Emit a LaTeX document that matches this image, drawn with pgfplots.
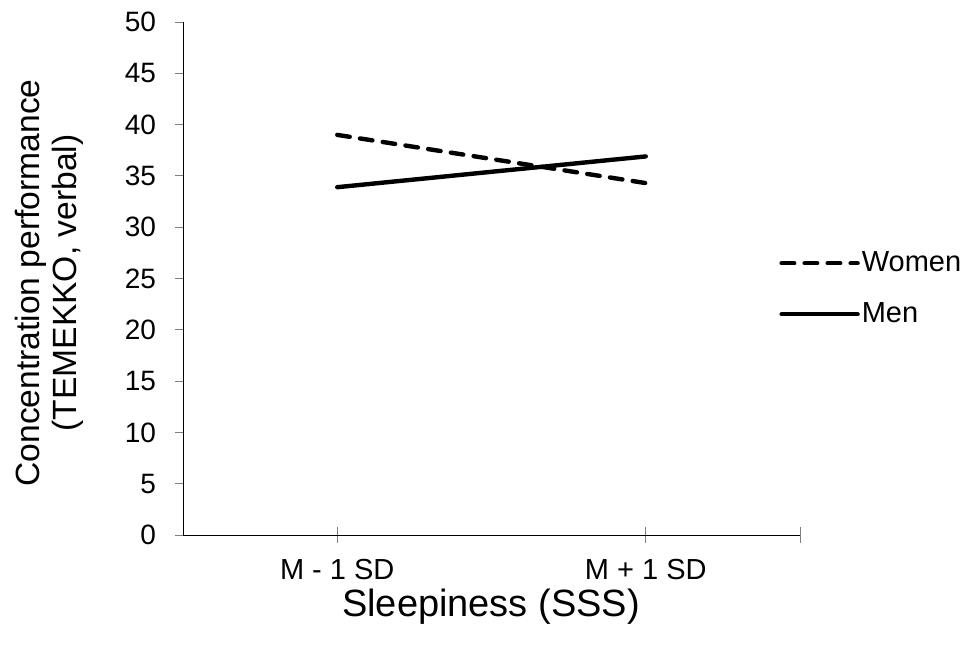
\documentclass[border=0pt]{standalone}
\usepackage{fontspec}
\setmainfont{Liberation Sans}
\usepackage{pgfplots}
\pgfplotsset{compat=1.18}

\begin{document}
\begin{tikzpicture}
% keep the page the size of the reference (1px = 0.5pt)
\useasboundingbox (0,0) rectangle (482.5pt,327.5pt);
\begin{axis}[
    at={(91.5pt,60pt)}, anchor=south west,
    scale only axis,
    width=308.5pt, height=256.5pt,
    xmin=-0.5, xmax=1.5,
    ymin=0, ymax=50,
    axis x line*=bottom,
    axis y line*=left,
    axis line style={line width=0.5pt},
    xtick={0,1},
    xticklabels={M - 1 SD, M + 1 SD},
    extra x ticks={1.5},
    extra x tick labels={},
    ytick={0,5,...,50},
    xtick align=center,
    ytick align=outside,
    xtick style={line width=0.5pt, /pgfplots/major tick length=8pt},
    ytick style={line width=0.5pt, /pgfplots/major tick length=4pt},
    /pgf/number format/assume math mode=true,
    xticklabel style={font=\fontsize{14.5}{16}\selectfont,
        anchor=north, inner sep=0pt, yshift=-10pt},
    yticklabel style={font=\fontsize{14}{16}\selectfont,
        anchor=east, inner sep=0pt},
    yticklabel shift=9pt,
    legend style={draw=none, fill=none, at={(rel axis cs:0.966,0.48)},
        anchor=west, inner sep=0pt, row sep=12pt,
        font=\fontsize{14.5}{16}\selectfont,
        nodes={inner sep=1pt}},
    legend cell align=left,
    legend image code/.code={\draw[#1] (0pt,0pt) -- (38pt,0pt);},
]
\addplot[black, line width=2.2pt, line cap=round, dash pattern=on 6.3pt off 5.2pt]
    coordinates {(0,39.0) (1,34.3)};
\addlegendentry{Women}
\addplot[black, line width=2.2pt, line cap=round]
    coordinates {(0,33.9) (1,36.9)};
\addlegendentry{Men}
\end{axis}
\node[rotate=90, anchor=base, inner sep=0pt, font=\fontsize{16.8}{18}\selectfont]
    at (20pt,186pt) {Concentration performance};
\node[rotate=90, anchor=base, inner sep=0pt, font=\fontsize{16.8}{18}\selectfont]
    at (38.5pt,186pt) {(TEMEKKO, verbal)};
\node[inner sep=0pt, font=\fontsize{19}{19}\selectfont]
    at (245.5pt,24pt) {Sleepiness (SSS)};
\end{tikzpicture}
\end{document}
